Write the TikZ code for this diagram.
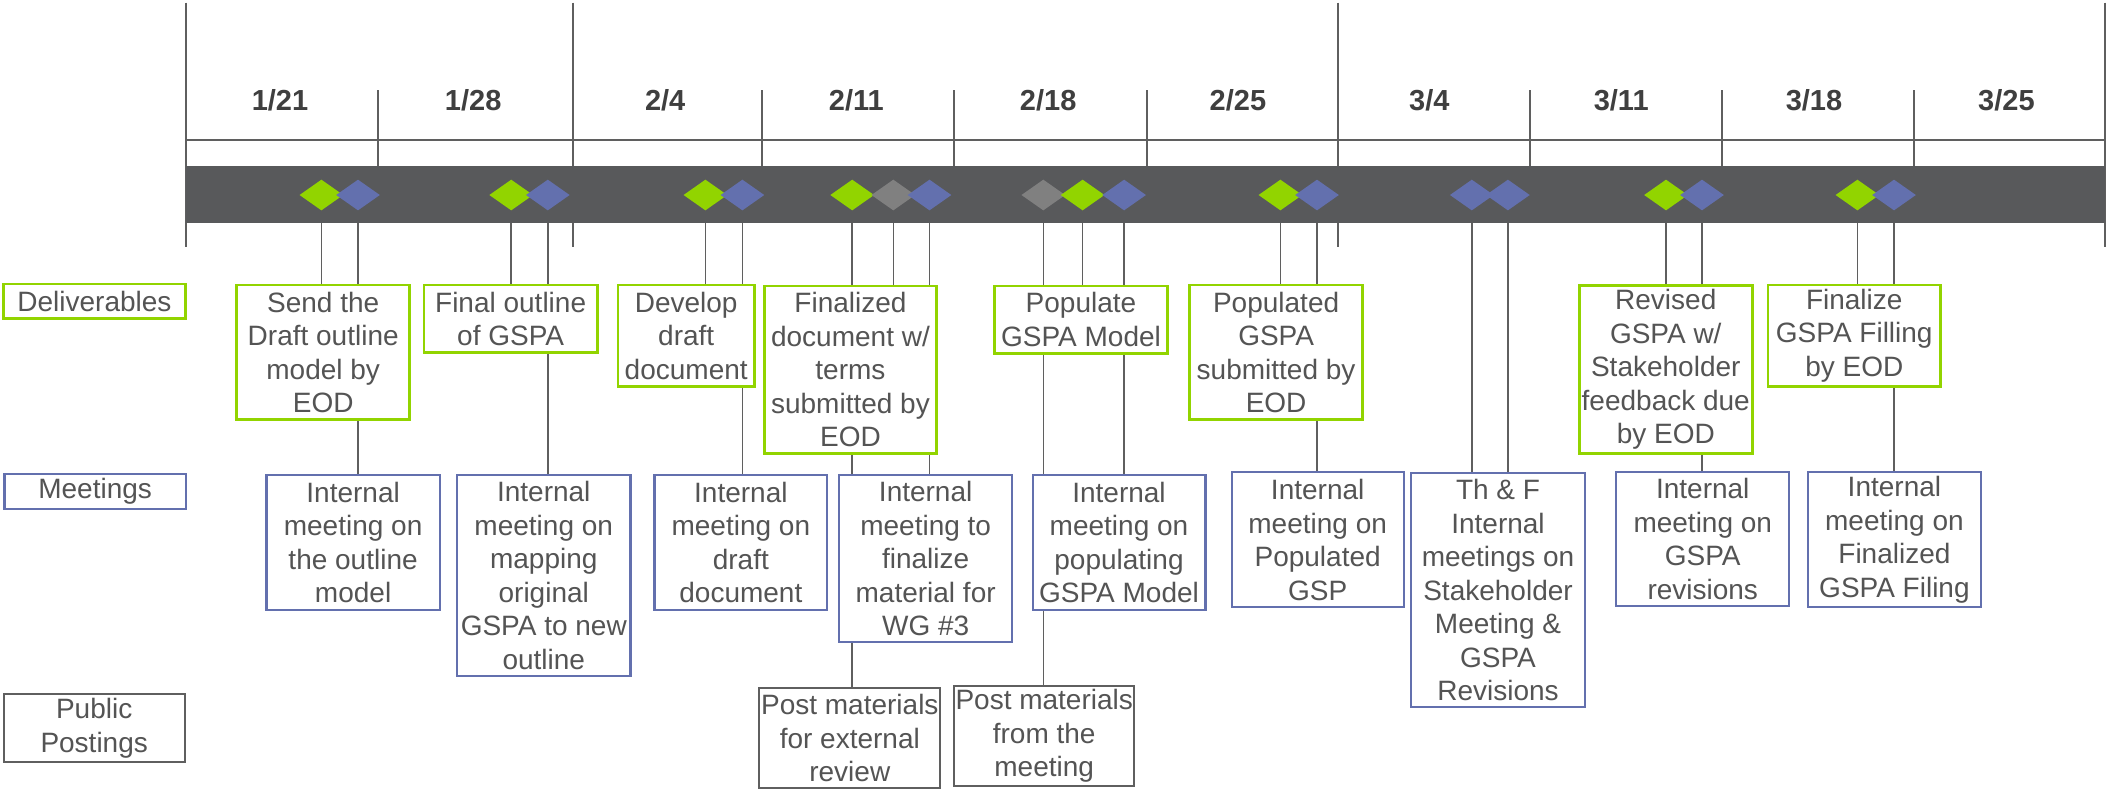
\documentclass[tikz,border=0pt]{standalone}
\usepackage{fontspec}
\setmainfont{Liberation Sans}
\usetikzlibrary{shapes.geometric,backgrounds}
\definecolor{lgreen}{HTML}{92D400}
\definecolor{lblue}{HTML}{6370AE}
\definecolor{lgray}{HTML}{808080}
\definecolor{barc}{HTML}{58595B}
\definecolor{txt}{HTML}{545454}
\definecolor{datec}{HTML}{3F3F3F}
\definecolor{linec}{HTML}{5F5F5F}
\begin{document}
\begin{tikzpicture}[x=0.5pt,y=-0.5pt,
  box/.style={draw, fill=white, inner sep=0pt, align=center, text=txt,
    font=\fontsize{14pt}{16.75pt}\selectfont},
  dbox/.style={box, draw=lgreen, line width=1.4pt},
  mbox/.style={box, draw=lblue, line width=1.1pt},
  pbox/.style={box, draw=linec, line width=1pt},
  dia/.style={diamond, inner sep=0pt, minimum width=22pt, minimum height=15.5pt},
  gd/.style={dia, fill=lgreen},
  bd/.style={dia, fill=lblue},
  yd/.style={dia, fill=lgray},
  conn/.style={draw=linec, line width=0.75pt},
  tl/.style={draw=linec, line width=1pt},
  datel/.style={font=\fontsize{14.5pt}{17pt}\selectfont\bfseries, text=datec}
]
\useasboundingbox (0,0) rectangle (2108,800);

% bar
\fill[barc] (185.7,165.7) rectangle (2105.3,223.3);

% dates
\node[datel] (w1) at (280,100) {1/21};
\node[datel] (w2) at (473.2,100) {1/28};
\node[datel] (w3) at (665.2,100) {2/4};
\node[datel] (w4) at (856.3,100) {2/11};
\node[datel] (w5) at (1048.2,100) {2/18};
\node[datel] (w6) at (1237.9,100) {2/25};
\node[datel] (w7) at (1429.3,100) {3/4};
\node[datel] (w8) at (1621.2,100) {3/11};
\node[datel] (w9) at (1814,100) {3/18};
\node[datel] (w10) at (2006.4,100) {3/25};

% diamonds
\node[gd] (dg1) at (321.4,195) {};
\node[bd] (db1) at (358,195) {};
\node[gd] (dg2) at (511.2,195) {};
\node[bd] (db2) at (547.8,195) {};
\node[gd] (dg3) at (705.4,195) {};
\node[bd] (db3) at (742.4,195) {};
\node[gd] (dg4) at (852.2,195) {};
\node[yd] (dy4) at (893.3,195) {};
\node[bd] (db4) at (929.5,195) {};
\node[yd] (dy5) at (1043.3,195) {};
\node[gd] (dg5) at (1082.6,195) {};
\node[bd] (db5) at (1124.1,195) {};
\node[gd] (dg6) at (1280.4,195) {};
\node[bd] (db6) at (1317,195) {};
\node[bd] (db7a) at (1471.8,195) {};
\node[bd] (db7b) at (1507.9,195) {};
\node[gd] (dg8) at (1666,195) {};
\node[bd] (db8) at (1702,195) {};
\node[gd] (dg9) at (1857.4,195) {};
\node[bd] (db9) at (1894,195) {};

% row labels
\node[dbox, minimum width=90.85pt, minimum height=17.15pt] (lD) at (94.45,301.15) {Deliverables};
\node[mbox, minimum width=90.6pt, minimum height=17.2pt] (lM) at (95.1,491.5) {Meetings};
\node[pbox, minimum width=90.6pt, minimum height=33.7pt] (lP) at (94.2,728) {Public\\Postings};

% deliverables
\node[dbox, minimum width=86.6pt, minimum height=67.35pt] (b1) at (323.2,352.35) {Send the\\Draft outline\\model by\\EOD};
\node[dbox, minimum width=86.65pt, minimum height=33.85pt] (b2) at (510.65,318.85) {Final outline\\of GSPA};
\node[dbox, minimum width=68.3pt, minimum height=50.65pt] (b3) at (686.2,335.65) {Develop\\draft\\document};
\node[dbox, minimum width=86.15pt, minimum height=83.65pt] (b4) at (850.45,369.65) {Finalized\\document w/\\terms\\submitted by\\EOD};
\node[dbox, minimum width=86.4pt, minimum height=33.65pt] (b5) at (1081,319.65) {Populate\\GSPA Model};
\node[dbox, minimum width=86.4pt, minimum height=67.35pt] (b6) at (1276.1,352.35) {Populated\\GSPA\\submitted by\\EOD};
\node[dbox, minimum width=86.45pt, minimum height=83.8pt] (b7) at (1665.75,369.5) {Revised\\GSPA w/\\Stakeholder\\feedback due\\by EOD};
\node[dbox, minimum width=86.25pt, minimum height=50.65pt] (b8) at (1854.25,335.65) {Finalize\\GSPA Filling\\by EOD};

% meetings
\node[mbox, minimum width=86.6pt, minimum height=67.5pt] (m1) at (353.1,542.5) {Internal\\meeting on\\the outline\\model};
\node[mbox, minimum width=86.65pt, minimum height=100.5pt] (m2) at (543.75,575.5) {Internal\\meeting on\\mapping\\original\\GSPA to new\\outline};
\node[mbox, minimum width=86.35pt, minimum height=67.5pt] (m3) at (740.85,542.5) {Internal\\meeting on\\draft\\document};
\node[mbox, minimum width=86.35pt, minimum height=83.65pt] (m4) at (925.65,558.65) {Internal\\meeting to\\finalize\\material for\\WG \#3};
\node[mbox, minimum width=86.4pt, minimum height=67.35pt] (m5) at (1119,542.35) {Internal\\meeting on\\populating\\GSPA Model};
\node[mbox, minimum width=85.95pt, minimum height=67.5pt] (m6) at (1317.65,539.8) {Internal\\meeting on\\Populated\\GSP};
\node[mbox, minimum width=86.7pt, minimum height=117.3pt] (m7) at (1498,590) {Th \& F\\Internal\\meetings on\\Stakeholder\\Meeting \&\\GSPA\\Revisions};
\node[mbox, minimum width=86.45pt, minimum height=67.15pt] (m8) at (1702.75,538.85) {Internal\\meeting on\\GSPA\\revisions};
\node[mbox, minimum width=86.7pt, minimum height=67.5pt] (m9) at (1894.4,539.8) {Internal\\meeting on\\Finalized\\GSPA Filing};

% public postings
\node[pbox, minimum width=90.4pt, minimum height=50.3pt] (p1) at (849.8,738) {Post materials\\for external\\review};
\node[pbox, minimum width=90.2pt, minimum height=50.3pt] (p2) at (1044.2,736) {Post materials\\from the\\meeting};

\begin{scope}[on background layer]
  % timeline
  \draw[tl] (185.7,2.7) -- (185.7,246.7);
  \draw[tl] (572.8,2.7) -- (572.8,246.7);
  \draw[tl] (1337.5,2.7) -- (1337.5,246.7);
  \draw[tl] (2105.3,2.7) -- (2105.3,246.7);
  \foreach \tx in {377.7,761.6,954,1146.9,1530,1722,1913.8}
    \draw[tl] (\tx,90) -- (\tx,165.7);
  \draw[tl] (185.7,140) -- (2105.3,140);
  % connectors
  \draw[conn] (dg1) -- (dg1 |- b1.north);
  \draw[conn] (db1) -- (db1 |- m1.north);
  \draw[conn] (dg2) -- (dg2 |- b2.north);
  \draw[conn] (db2) -- (db2 |- m2.north);
  \draw[conn] (dg3) -- (dg3 |- b3.north);
  \draw[conn] (db3) -- (db3 |- m3.north);
  \draw[conn] (dg4) -- (dg4 |- p1.north);
  \draw[conn] (dy4) -- (dy4 |- b4.north);
  \draw[conn] (db4) -- (db4 |- m4.north);
  \draw[conn] (dy5) -- (dy5 |- p2.north);
  \draw[conn] (dg5) -- (dg5 |- b5.north);
  \draw[conn] (db5) -- (db5 |- m5.north);
  \draw[conn] (dg6) -- (dg6 |- b6.north);
  \draw[conn] (db6) -- (db6 |- m6.north);
  \draw[conn] (db7a) -- (db7a |- m7.north);
  \draw[conn] (db7b) -- (db7b |- m7.north);
  \draw[conn] (dg8) -- (dg8 |- b7.north);
  \draw[conn] (db8) -- (db8 |- m8.north);
  \draw[conn] (dg9) -- (dg9 |- b8.north);
  \draw[conn] (db9) -- (db9 |- m9.north);
\end{scope}
\end{tikzpicture}
\end{document}
